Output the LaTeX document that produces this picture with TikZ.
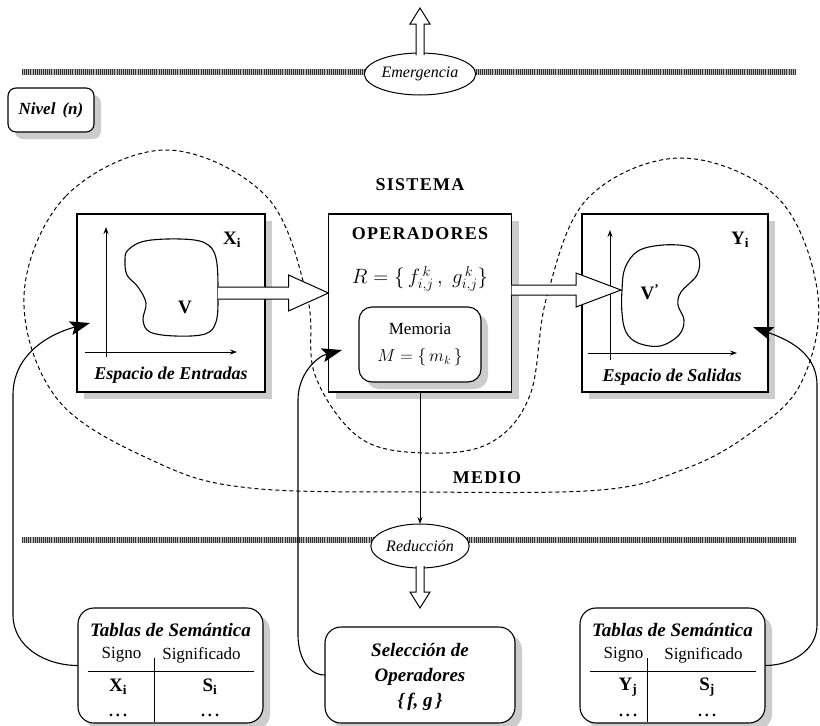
\documentclass[tikz,border=0pt]{standalone}
\usepackage{fontspec}
\setmainfont{Liberation Serif}
\usetikzlibrary{arrows.meta,shapes.geometric,calc,shadows}
\begin{document}
\begin{tikzpicture}[x=1pt,y=-1pt,
  every node/.style={inner sep=0pt,outer sep=0pt},
  frame/.style={draw,fill=white,line width=1.1pt,inner sep=0pt},
  shad/.style={drop shadow={shadow xshift=7pt,shadow yshift=-7pt,fill=gray!40,opacity=1}},
  rbox/.style={frame,rounded corners=16pt},
  bubble/.style={ellipse,draw,fill=white,line width=1pt,inner sep=1pt},
  hollow/.style={draw,fill=white,line width=1pt,line join=miter},
  fb/.style={line width=1.1pt,-{Stealth[length=20pt,width=14pt,inset=4pt]}},
  axis/.style={line width=1pt,-{Stealth[length=7pt,width=5pt]}},
  medio/.style={line width=1pt,dash pattern=on 4pt off 3pt},
  band/.style={line width=6pt,black!80,dash pattern=on 1pt off 1.1pt},
  caps/.style={font=\fontsize{18}{20}\selectfont\bfseries\addfontfeature{LetterSpace=7}},
  bsym/.style={font=\fontsize{19}{21}\selectfont\bfseries},
  dots/.style={font=\fontsize{16}{16}\selectfont\bfseries},
  itl/.style={font=\fontsize{16}{18}\selectfont\itshape},
  bitl/.style={font=\fontsize{18}{22}\selectfont\bfseries\itshape},
  reg/.style={font=\fontsize{17}{19}\selectfont},
]
\useasboundingbox (0,0) rectangle (820,726);

% hatched bands
\coordinate (bandTL) at (22,72); \coordinate (bandTR) at (795,72);
\coordinate (bandBL) at (22,540); \coordinate (bandBR) at (795,540);
\draw[line width=6pt,gray!55] (bandTL) -- (bandTR);
\draw[band] (bandTL) -- (bandTR);
\draw[line width=6pt,gray!55] (bandBL) -- (bandBR);
\draw[band] (bandBL) -- (bandBR);

% dashed system / environment boundary
\draw[medio] plot[smooth cycle,tension=0.6] coordinates {
 (24,296) (66,196) (166,150) (266,196) (307,296)
 (315,375) (360,438) (425,453) (490,443) (530,395)
 (547,296) (588,198) (681,158) (778,198) (818,296)
 (800,385) (745,437) (682,470) (600,490) (420,492)
 (250,488) (158,463) (58,400)};

% main boxes
\node[frame,shad,minimum width=188,minimum height=178] (xb) at (171,303) {};
\node[frame,shad,minimum width=183,minimum height=178] (op) at (420,303) {};
\node[frame,shad,minimum width=186,minimum height=178] (yb) at (675,303) {};
\node[rbox,shad,rounded corners=13pt,minimum width=122,minimum height=75] (mem) at (420,344.5)
  {\parbox{115pt}{\centering\fontsize{17}{30}\selectfont Memoria\\[-3pt]$M=\{\,m_k\,\}$}};
\node[rbox,shad,rounded corners=8pt,minimum width=86,minimum height=44,
  font=\fontsize{17}{20}\selectfont\bfseries\itshape] (niv) at (51,110) {Nivel\, (n)};
\node[rbox,shad,minimum width=185,minimum height=115] (tabL) at (170.5,665.5) {};
\node[rbox,shad,minimum width=185,minimum height=115] (tabR) at (672.5,665.5) {};
\node[rbox,shad,minimum width=190,minimum height=96] (sel) at (420,675) {};

% input space
\draw[axis] (106,357) -- (106,227);
\draw[axis] (85,352) -- (237,352);
\draw[line width=1.1pt] plot[smooth cycle,tension=0.6] coordinates {
 (128,250) (145,241) (180,239) (205,243) (216,258) (218,295) (216,322)
 (205,334) (175,336) (150,332) (143,320) (146,303) (138,287) (127,275) (125,260)};
\coordinate (vE) at (218,293);
\node[bsym] (vlab) at (185,307) {V};
\node[bsym] (xi) at (232,240) {X\textsubscript{i}};
\node[bitl] (ent) at (171,375) {Espacio de Entradas};

% output space
\draw[axis] (610,360) -- (610,230);
\draw[axis] (588,353) -- (737,353);
\draw[line width=1.1pt] plot[smooth cycle,tension=0.6] coordinates {
 (622,290) (625,268) (638,251) (663,245) (690,247) (699,258) (697,275)
 (681,292) (678,305) (684,320) (679,335) (660,346) (638,343) (626,332) (622,313)};
\coordinate (vpW) at (621,290);
\node[bsym] (vplab) at (650,292) {V\textsuperscript{'}};
\node[bsym] (yi) at (740,240) {Y\textsubscript{i}};
\node[bitl] (sal) at (672,377) {Espacio de Salidas};

% operators
\node[caps] (sis) at (420,185) {SISTEMA};
\node[caps] (opl) at (420,234) {OPERADORES};
\node[font=\fontsize{20}{22}\selectfont] (rset) at (420,279)
  {$R=\Big\{\,f^{\,k}_{i,j}\,,\;g^{\,k}_{i,j}\Big\}$};
\node[caps] (med) at (487,478) {MEDIO};

% hollow arrows between spaces
\coordinate (opW) at (op.west |- vE);
\draw[hollow] ($(vE)+(0,-6)$) -- ($(opW)+(-40,-6)$) -- ($(opW)+(-40,-18)$) -- (opW)
  -- ($(opW)+(-40,18)$) -- ($(opW)+(-40,6)$) -- ($(vE)+(0,6)$);
\coordinate (opE) at (op.east |- vpW);
\draw[hollow] ($(opE)+(0,-5)$) -- ($(vpW)+(-45,-5)$) -- ($(vpW)+(-45,-17)$) -- (vpW)
  -- ($(vpW)+(-45,17)$) -- ($(vpW)+(-45,5)$) -- ($(opE)+(0,5)$);

% emergence / reduction
\node[bubble,minimum width=82,minimum height=42,itl] (em) at (420,74) {Emergencia};
\node[bubble,minimum width=74,minimum height=44,itl] (re) at (420,546) {Reducción};
\coordinate (tipE) at (420,8);
\draw[hollow] ($(em.north)+(-4,2)$) -- ($(tipE)+(-4,16)$) -- ($(tipE)+(-10,16)$) -- (tipE)
  -- ($(tipE)+(10,16)$) -- ($(tipE)+(4,16)$) -- ($(em.north)+(4,2)$);
\coordinate (tipR) at (420,608);
\draw[hollow] ($(re.south)+(-4,-2)$) -- ($(tipR)+(-4,-16)$) -- ($(tipR)+(-10,-16)$) -- (tipR)
  -- ($(tipR)+(10,-16)$) -- ($(tipR)+(4,-16)$) -- ($(re.south)+(4,-2)$);
\draw[line width=0.9pt,-{Stealth[length=7pt,width=5pt]}] (op.south) -- (re.north);

% feedback connectors
\coordinate (xIn) at (90,323);
\coordinate (opIn) at (342,350);
\coordinate (yIn) at (753,327);
\draw[fb] (tabL.west) to[out=180,in=-90] (13,615) -- (13,395) to[out=90,in=195] (xIn);
\draw[fb] (sel.west) to[out=180,in=-90] (298,635) -- (298,400) to[out=90,in=195] (opIn);
\draw[fb] (tabR.east) to[out=0,in=-90] (817,625) -- (817,385) to[out=90,in=-20] (yIn);

% semantic tables
\foreach \t/\cx/\dx/\a/\b/\sa/\sb in {L/170.5/154/X/i/118/210, R/672.5/647/Y/j/628/707}{
  \node[font=\fontsize{19}{22}\selectfont\bfseries\itshape] (tt\t) at (\cx,630) {Tablas de Semántica};
  \node[reg] (sg\t) at (\cx-49,655) {Signo};
  \node[reg] (sf\t) at (\cx+31,655) {Significado};
  \draw[line width=1pt] (\cx-83,671) -- (\cx+83,671);
  \draw[line width=1pt] (\dx,658) -- (\dx,722);
  \node[bsym] (r1a\t) at (\sa,687) {\a\textsubscript{\b}};
  \node[bsym] (r1b\t) at (\sb,687) {S\textsubscript{\b}};
  \node[dots,anchor=base] (r2a\t) at (\sa,716) {.\hspace{3pt}.\hspace{3pt}.};
  \node[dots,anchor=base] (r2b\t) at (\sb,716) {.\hspace{3pt}.\hspace{3pt}.};
}
\node[font=\fontsize{19}{25}\selectfont\bfseries\itshape,align=center] (seltxt) at (420,677)
  {Selección de\\Operadores\\\{\,f, g\,\}};
\end{tikzpicture}
\end{document}
